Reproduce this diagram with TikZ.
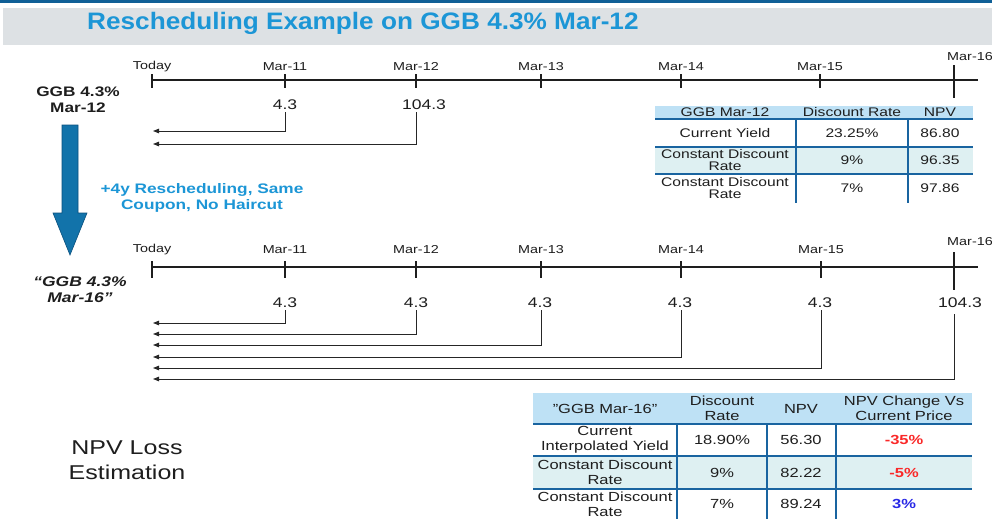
\documentclass[tikz,border=0pt]{standalone}
\usepackage{fontspec}
\setmainfont{Liberation Sans}[FakeStretch=1.25]
\newfontfamily\titlefont{Liberation Sans}[FakeStretch=1.1]
\usetikzlibrary{arrows.meta}
\definecolor{titleblue}{RGB}{28,150,214}
\definecolor{barblue}{RGB}{15,95,150}
\definecolor{bandgray}{RGB}{221,225,228}
\definecolor{arrowblue}{RGB}{18,115,170}
\definecolor{arrowedge}{RGB}{10,80,125}
\definecolor{hdrblue}{RGB}{190,225,245}
\definecolor{rowcyan}{RGB}{222,240,242}
\definecolor{ruleblue}{RGB}{25,100,160}
\definecolor{txt}{RGB}{30,30,30}
\definecolor{negred}{RGB}{250,40,40}
\definecolor{posblue}{RGB}{40,40,230}
\tikzset{
  tl/.style={draw=txt, line width=1.2pt},
  tickmark/.style={draw=txt, line width=1.2pt},
  ticklbl/.style={font=\fontsize{11.5}{12}\selectfont, text=txt, inner sep=0pt},
  val/.style={font=\fontsize{14}{15}\selectfont, text=txt, inner sep=2pt},
  flow/.style={draw=black!85, line width=1pt, -{Triangle[length=6pt,width=4.5pt]}},
  cellA/.style={align=center, inner sep=0pt, text=txt, font=\fontsize{12.5}{12}\selectfont},
  cellB/.style={align=center, inner sep=0pt, text=txt, font=\fontsize{13.2}{15}\selectfont},
  rulebar/.style={draw=ruleblue, line width=2.5pt},
  side/.style={align=center, inner sep=0pt, text=txt, font=\bfseries\fontsize{13.8}{16}\selectfont}
}
\begin{document}
\begin{tikzpicture}[x=1pt,y=-1pt]
\useasboundingbox (0,0) rectangle (992,519);
\fill[white] (0,0) rectangle (992,519);
% title band
\fill[barblue] (0,0) rectangle (992,3);
\fill[bandgray] (3,8) rectangle (992,45);
\node[anchor=west, inner sep=0pt, text=titleblue, font=\titlefont\bfseries\fontsize{23.8}{26}\selectfont] (title) at (87,23.5) {Rescheduling Example on GGB 4.3\% Mar-12};

% ---------- top timeline ----------
\coordinate (l1s) at (152,80);
\coordinate (l1e) at (978,80);
\draw[tl] (l1s) -- (l1e);
\foreach \x/\t [count=\i from 0] in {152/Today,285/Mar-11,416/Mar-12,541/Mar-13,681/Mar-14,820/Mar-15}{
  \coordinate (a\i) at (\x,80);
  \draw[tickmark] (\x,74) -- (\x,88);
  \node[ticklbl] (la\i) at (\x,67) {\t};
}
\coordinate (a6) at (954,80);
\draw[tickmark] (954,65) -- (954,98);
\node[ticklbl] (la6) at (970,57) {Mar-16};

\node[val] (va1) at (285,105) {4.3};
\node[val] (va2) at (424,105) {104.3};
\coordinate (ea1) at (153,131);
\coordinate (ea2) at (153,144);
\draw[flow] (a1 |- va1.south) |- (ea1);
\draw[flow] (a2 |- va2.south) |- (ea2);

\node[side] (src) at (78,100) {GGB 4.3\%\\Mar-12};

% big arrow
\fill[arrowblue, draw=arrowedge, line width=0.6pt] (62,125) -- (78,125) -- (78,213) -- (87,213) -- (70,255) -- (53,213) -- (62,213) -- cycle;
\node[align=center, inner sep=0pt, text=titleblue, font=\bfseries\fontsize{13.8}{16}\selectfont] (resch) at (202,198) {+4y Rescheduling, Same\\Coupon, No Haircut};
\node[align=center, inner sep=0pt, text=txt, font=\bfseries\itshape\fontsize{14}{16}\selectfont] (dst) at (80,290) {“GGB 4.3\%\\Mar-16”};

% ---------- table 1 ----------
\fill[hdrblue] (655,106) rectangle (973,119);
\fill[rowcyan] (655,147) rectangle (973,174);
\draw[rulebar] (655,119) -- (973,119);
\draw[rulebar] (655,147) -- (973,147);
\draw[rulebar] (655,174) -- (973,174);
\draw[rulebar] (796,119) -- (796,203);
\draw[rulebar] (908,119) -- (908,203);
\node[cellA] (t1h1) at (725,112.5) {GGB Mar-12};
\node[cellA] (t1h2) at (852,112.5) {Discount Rate};
\node[cellA] (t1h3) at (940,112.5) {NPV};
\node[cellA] (t1a1) at (725,133) {Current Yield};
\node[cellA] (t1a2) at (852,133) {23.25\%};
\node[cellA] (t1a3) at (940,133) {86.80};
\node[cellA] (t1b1) at (725,160.5) {Constant Discount\\Rate};
\node[cellA] (t1b2) at (852,160.5) {9\%};
\node[cellA] (t1b3) at (940,160.5) {96.35};
\node[cellA] (t1c1) at (725,188.5) {Constant Discount\\Rate};
\node[cellA] (t1c2) at (852,188.5) {7\%};
\node[cellA] (t1c3) at (940,188.5) {97.86};

% ---------- bottom timeline ----------
\coordinate (l2s) at (152,267);
\coordinate (l2e) at (978,267);
\draw[tl] (l2s) -- (l2e);
\foreach \x/\t [count=\i from 0] in {152/Today,285/Mar-11,416/Mar-12,541/Mar-13,681/Mar-14,821/Mar-15}{
  \coordinate (b\i) at (\x,267);
  \draw[tickmark] (\x,261) -- (\x,278);
  \node[ticklbl] (lb\i) at (\x,250) {\t};
}
\coordinate (b6) at (954,267);
\draw[tickmark] (954,252) -- (954,290);
\node[ticklbl] (lb6) at (970,242) {Mar-16};

\node[val] (vb1) at (285,303) {4.3};
\node[val] (vb2) at (416,303) {4.3};
\node[val] (vb3) at (540,303) {4.3};
\node[val] (vb4) at (680,303) {4.3};
\node[val] (vb5) at (820,303) {4.3};
\node[val, inner sep=6pt] (vb6) at (960,303) {104.3};
\foreach \i/\y in {1/323,2/334,3/345,4/357,5/368,6/379}{
  \coordinate (eb\i) at (153,\y);
  \draw[flow] (b\i |- vb\i.south) |- (eb\i);
}

% ---------- table 2 ----------
\fill[hdrblue] (533,393) rectangle (972,424);
\fill[rowcyan] (533,456) rectangle (972,489);
\draw[rulebar] (533,424) -- (972,424);
\draw[rulebar] (533,456) -- (972,456);
\draw[rulebar] (533,489) -- (972,489);
\draw[rulebar] (677,424) -- (677,519);
\draw[rulebar] (767,424) -- (767,519);
\draw[rulebar] (836,424) -- (836,519);
\node[cellB] (t2h1) at (605,408.5) {"GGB Mar-16"};
\node[cellB] (t2h2) at (722,408.5) {Discount\\Rate};
\node[cellB] (t2h3) at (801,408.5) {NPV};
\node[cellB] (t2h4) at (904,408.5) {NPV Change Vs\\Current Price};
\node[cellB] (t2a1) at (605,440) {Current\\Interpolated Yield};
\node[cellB] (t2a2) at (722,440) {18.90\%};
\node[cellB] (t2a3) at (801,440) {56.30};
\node[cellB, text=negred, font=\bfseries\fontsize{13.2}{15}\selectfont] (t2a4) at (904,440) {-35\%};
\node[cellB] (t2b1) at (605,472.5) {Constant Discount\\Rate};
\node[cellB] (t2b2) at (722,472.5) {9\%};
\node[cellB] (t2b3) at (801,472.5) {82.22};
\node[cellB, text=negred, font=\bfseries\fontsize{13.2}{15}\selectfont] (t2b4) at (904,472.5) {-5\%};
\node[cellB] (t2c1) at (605,504) {Constant Discount\\Rate};
\node[cellB] (t2c2) at (722,504) {7\%};
\node[cellB] (t2c3) at (801,504) {89.24};
\node[cellB, text=posblue, font=\bfseries\fontsize{13.2}{15}\selectfont] (t2c4) at (904,504) {3\%};

\node[align=center, inner sep=0pt, text=txt, font=\fontsize{20}{25}\selectfont] (npv) at (127,460) {NPV Loss\\Estimation};
\end{tikzpicture}
\end{document}
